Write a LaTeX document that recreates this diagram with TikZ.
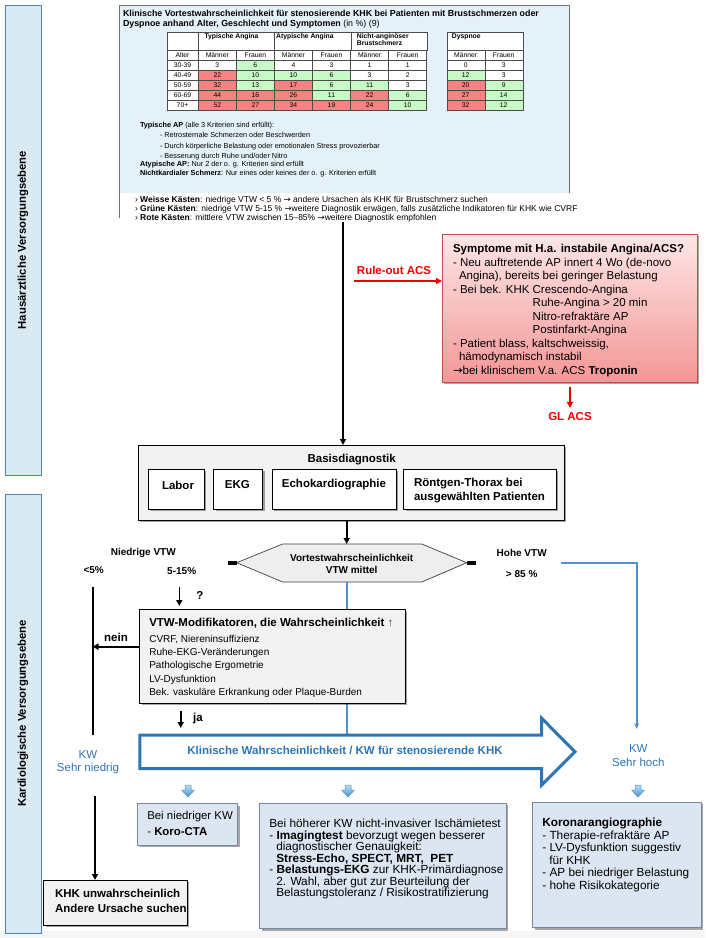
\documentclass[tikz,border=0pt]{standalone}
\usepackage{fontspec}
\setmainfont{Liberation Sans}
\newfontfamily\arrfont{DejaVu Sans}
\newcommand{\rarr}{{\arrfont →}}
\usetikzlibrary{shadows,arrows.meta,calc}
\definecolor{panelblue}{RGB}{229,241,248}
\definecolor{sidefill}{RGB}{218,234,243}
\definecolor{sideedge}{RGB}{79,129,189}
\definecolor{cr}{RGB}{250,130,130}
\definecolor{cg}{RGB}{200,250,200}
\definecolor{cw}{RGB}{255,255,255}
\definecolor{acsred}{RGB}{238,0,0}
\definecolor{boxred}{RGB}{192,80,77}
\definecolor{pinktop}{RGB}{253,230,230}
\definecolor{pinkbot}{RGB}{244,150,150}
\definecolor{graybox}{RGB}{242,242,242}
\definecolor{kwblue}{RGB}{46,117,182}
\definecolor{lineblue}{RGB}{84,144,206}
\definecolor{lavender}{RGB}{220,230,242}
\definecolor{lavedge}{RGB}{120,135,160}
\definecolor{arrowblue}{RGB}{72,150,210}
\definecolor{upblue}{RGB}{40,60,140}
\tikzset{
  txt/.style={inner sep=0pt, outer sep=0pt},
  shad/.style={drop shadow={shadow xshift=2pt, shadow yshift=-2pt, opacity=0.35, fill=black}},
  sidebar/.style={draw=sideedge, line width=0.8pt, fill=sidefill, rotate=90, minimum width=#1, minimum height=36pt, inner sep=0pt, font=\fontsize{11.3}{13}\selectfont\bfseries},
  blackarrow/.style={line width=1.6pt, -{Triangle[length=6pt,width=6pt]}},
  graybx/.style={draw=black, line width=0.7pt, fill=graybox, shad},
  whitebx/.style={draw=black, line width=0.7pt, fill=white, shad},
  lavbx/.style={draw=lavedge, line width=0.7pt, fill=lavender, shad},
  tgrid/.style={draw=black!70, line width=0.4pt},
  cellt/.style={inner sep=0pt, font=\fontsize{6.8}{8}\selectfont},
  cellb/.style={inner sep=0pt, font=\fontsize{6.8}{7.6}\selectfont\bfseries},
  mainb/.style={txt, font=\fontsize{11.5}{13.5}\selectfont\bfseries},
  smallb/.style={txt, font=\fontsize{10}{12}\selectfont\bfseries},
  blueline/.style={draw=lineblue, line width=2pt},
}
\begin{document}
\begin{tikzpicture}[x=1pt,y=-1pt]
\useasboundingbox (0,0) rectangle (705,938);
\fill[white] (0,0) rectangle (705,938);
\fill[gray!7] (0,931) rectangle (705,938);

% side bars
\node[sidebar=470pt] (side1) at (23,240) {Hausärztliche Versorgungsebene};
\node[sidebar=439pt] (side2) at (23,713.5) {Kardiologische Versorgungsebene};

% top panel
\fill[panelblue] (119,5) rectangle (569,193);
\draw[black!55, line width=0.8pt] (119,218) -- (119,5) -- (569,5) -- (569,193);
\node[txt, anchor=north west, align=left, font=\fontsize{8.85}{10}\selectfont] (ttitle) at (123,10.5)
 {\textbf{Klinische Vortestwahrscheinlichkeit für stenosierende KHK bei Patienten mit Brustschmerzen oder}\\
  \textbf{Dyspnoe anhand Alter, Geschlecht und Symptomen} (in \%) (9)};

% table header
\filldraw[tgrid, fill=white] (166.7,31.7) rectangle (198.3,50);
\filldraw[tgrid, fill=white] (198.3,31.7) rectangle (274.3,50);
\filldraw[tgrid, fill=white] (274.3,31.7) rectangle (350.7,50);
\filldraw[tgrid, fill=white] (350.7,31.7) rectangle (426.7,50);
\filldraw[tgrid, fill=white] (446.7,31.7) rectangle (522.7,50);
\node[cellb, anchor=west] (thTA) at (204.3,36.7) {Typische Angina};
\node[cellb, anchor=west] (thAA) at (276,36.7) {Atypische Angina};
\node[cellb, anchor=north west, align=left] (thNA) at (356.7,33.2) {Nicht-anginöser\\Brustschmerz};
\node[cellb, anchor=west] (thD) at (451.7,36.7) {Dyspnoe};
\filldraw[tgrid, fill=white] (166.7,50) rectangle (198.3,60);
\node[cellt] (thAlter) at (182.5,55) {Alter};
\foreach \k in {1,...,8}{
  \pgfmathsetmacro\xl{\k<=6 ? 198.3+(\k-1)*38.07 : 446.7+(\k-7)*38}
  \filldraw[tgrid, fill=white] (\xl,50) rectangle (\xl+38,60);
  \pgfmathtruncatemacro\isodd{mod(\k,2)}
  \ifnum\isodd=1
    \node[cellt] (thsex\k) at (\xl+19,55) {Männer};
  \else
    \node[cellt] (thsex\k) at (\xl+19,55) {Frauen};
  \fi
}
\foreach \r/\lab/\vals in {
 0/30-39/{3/w,6/g,4/w,3/w,1/w,1/w,0/w,3/w},
 1/40-49/{22/r,10/g,10/g,6/g,3/w,2/w,12/g,3/w},
 2/50-59/{32/r,13/g,17/r,6/g,11/g,3/w,20/r,9/g},
 3/60-69/{44/r,16/r,26/r,11/g,22/r,6/g,27/r,14/g},
 4/70+/{52/r,27/r,34/r,19/r,24/r,10/g,32/r,12/g}}{
  \pgfmathsetmacro\yt{60+10*\r}
  \filldraw[tgrid, fill=white] (166.7,\yt) rectangle (198.3,\yt+10);
  \node[cellt] (alter\r) at (182.5,\yt+5) {\lab};
  \foreach \v/\c [count=\k] in \vals {
    \pgfmathsetmacro\xl{\k<=6 ? 198.3+(\k-1)*38.07 : 446.7+(\k-7)*38}
    \filldraw[tgrid, fill=c\c] (\xl,\yt) rectangle (\xl+38,\yt+10);
    \node[cellt] (cell\r-\k) at (\xl+19,\yt+5) {\v};
  }
}

% criteria
\node[txt, anchor=north west, align=left, font=\fontsize{7.3}{10.5}\selectfont] (crit1) at (140,121.8)
 {\textbf{Typische AP} (alle 3 Kriterien sind erfüllt):\\
  \hspace*{20pt}- Retrosternale Schmerzen oder Beschwerden\\
  \hspace*{20pt}- Durch körperliche Belastung oder emotionalen Stress provozierbar\\
  \hspace*{20pt}- Besserung durch Ruhe und/oder Nitro};
\node[txt, anchor=north west, align=left, font=\fontsize{7.3}{9}\selectfont] (crit2) at (140,161.1)
 {\textbf{Atypische AP:} Nur 2 der o. g. Kriterien sind erfüllt\\
  \textbf{Nichtkardialer Schmerz}: Nur eines oder keines der o. g. Kriterien erfüllt};
\node[txt, anchor=north west, align=left, font=\fontsize{8.5}{9.2}\selectfont] (legend) at (135,196.4)
 {› \textbf{Weisse Kästen}: niedrige VTW < 5 \% \rarr{} andere Ursachen als KHK für Brustschmerz suchen\\
  › \textbf{Grüne Kästen}: niedrige VTW 5-15 \% \rarr weitere Diagnostik erwägen, falls zusätzliche Indikatoren für KHK wie CVRF\\
  › \textbf{Rote Kästen}: mittlere VTW zwischen 15–85\% \rarr weitere Diagnostik empfohlen};

% ACS box
\node[draw=boxred, line width=0.8pt, top color=pinktop, bottom color=pinkbot, shad, minimum width=255pt, minimum height=148pt, anchor=north west, inner sep=0pt] (acs) at (442,234) {};
\node[txt, anchor=north west, align=left, font=\fontsize{11.5}{13.5}\selectfont] (acstext) at (453,244.2)
 {\textbf{Symptome mit H.a. instabile Angina/ACS?}\\
  - Neu auftretende AP innert 4 Wo (de-novo\\
  \hspace*{6pt}Angina), bereits bei geringer Belastung\\
  - Bei bek. KHK Crescendo-Angina\\
  \hspace*{79.7pt}Ruhe-Angina > 20 min\\
  \hspace*{79.7pt}Nitro-refraktäre AP\\
  \hspace*{79.7pt}Postinfarkt-Angina\\
  - Patient blass, kaltschweissig,\\
  \hspace*{6pt}hämodynamisch instabil\\
  \rarr bei klinischem V.a. ACS \textbf{Troponin}};
\coordinate (ruleStart) at (354,281);
\draw[line width=1.6pt, acsred, -{Triangle[length=6pt,width=6pt]}] (ruleStart) -- (ruleStart -| acs.west);
\node[mainb, text=acsred] (ruleT) at (394,270) {Rule-out ACS};
\node[mainb, text=acsred] (gl) at (570,417) {GL ACS};
\coordinate (glStart) at (570,387);
\draw[line width=1.6pt, acsred, -{Triangle[length=6pt,width=6pt]}, shorten >=5pt] (glStart) -- (gl.north);

% Basisdiagnostik
\node[graybx, anchor=north west, minimum width=426pt, minimum height=75pt, inner sep=0pt] (basis) at (138,445) {};
\node[mainb] (basisT) at (351.7,460) {Basisdiagnostik};
\node[whitebx, anchor=north west, minimum width=55.7pt, minimum height=40pt, inner sep=0pt] (labor) at (148.3,469) {};
\node[whitebx, anchor=north west, minimum width=49pt, minimum height=40pt, inner sep=0pt] (ekg) at (213.3,469) {};
\node[whitebx, anchor=north west, minimum width=124pt, minimum height=40pt, inner sep=0pt] (echo) at (271.7,469) {};
\node[whitebx, anchor=north west, minimum width=152.4pt, minimum height=40pt, inner sep=0pt] (roent) at (403.3,469) {};
\node[mainb] (laborT) at (178,485) {Labor};
\node[mainb] (ekgT) at (237.3,485) {EKG};
\node[mainb] (echoT) at (334,485) {Echokardiographie};
\node[mainb, anchor=north west, align=left, font=\fontsize{11.5}{14.6}\selectfont\bfseries] (roentT) at (414,477.9) {Röntgen-Thorax bei\\ausgewählten Patienten};

% main arrow
\coordinate (mainStart) at (343,222);
\draw[blackarrow] (mainStart) -- (mainStart |- basis.north);

% hexagon
\coordinate (hL) at (236.7,562.7);
\coordinate (hTL) at (282.7,544);
\coordinate (hTR) at (421.7,544);
\coordinate (hR) at (466.7,562.7);
\coordinate (hBR) at (421.7,582);
\coordinate (hBL) at (282.7,582);
\coordinate (hTop) at (346.7,544);
\coordinate (hBot) at (347.3,582);
\filldraw[fill=gray!13, draw=black!75, line width=0.7pt] (hL) -- (hTL) -- (hTR) -- (hR) -- (hBR) -- (hBL) -- cycle;
\fill[black] (228.3,561) rectangle (236.7,564.5);
\fill[black] (466.7,561) rectangle (476,564.5);
\node[txt, align=center, font=\fontsize{10}{12.5}\selectfont\bfseries] (hexT) at (351.7,564) {Vortestwahrscheinlichkeit\\VTW mittel};
\draw[blackarrow] (hTop |- basis.south) -- (hTop);

% labels around hexagon
\node[smallb] (niedrigT) at (143.3,553.3) {Niedrige VTW};
\node[smallb] (lt5) at (93.7,570) {<5\%};
\node[smallb] (p515) at (181.7,570.7) {5-15\%};
\node[smallb] (hoheT) at (521.7,553.3) {Hohe VTW};
\node[smallb] (gt85) at (521.7,574.3) {> 85 \%};

% blue line behind VTW box
\coordinate (bigTop) at (347.3,735);
\draw[blueline] (hBot) -- (bigTop);

% VTW modifier box
\node[graybx, anchor=north west, minimum width=265.7pt, minimum height=94pt, inner sep=0pt] (vtw) at (139.3,609) {};
\node[mainb, anchor=west] (vtwT) at (149.3,623.3) {VTW-Modifikatoren, die Wahrscheinlichkeit \textcolor{upblue}{\mdseries ↑}};
\node[txt, anchor=north west, align=left, font=\fontsize{10}{13.4}\selectfont] (vtwItems) at (149.3,634.8)
 {CVRF, Niereninsuffizienz\\
  Ruhe-EKG-Veränderungen\\
  Pathologische Ergometrie\\
  LV-Dysfunktion\\
  Bek. vaskuläre Erkrankung oder Plaque-Burden};

% 5-15 arrow and question
\coordinate (q1) at (179.3,587);
\draw[blackarrow, shorten >=3pt] (q1) -- (q1 |- vtw.north);
\node[mainb] (qT) at (200,595) {?};

% left black line and nein
\coordinate (lvTop) at (92.5,587);
\coordinate (lvBot) at (92.5,735);
\draw[line width=2pt] (lvTop) -- (lvBot);
\coordinate (neinS) at (139.3,646.7);
\draw[blackarrow] (neinS) -- (neinS -| lvTop);
\node[mainb] (neinT) at (116,637.3) {nein};

% ja arrow
\coordinate (jaE) at (180.7,728);
\draw[blackarrow, shorten <=7pt] (jaE |- vtw.south) -- (jaE);
\node[mainb] (jaT) at (198,718.3) {ja};

% big arrow
\filldraw[draw=kwblue, line width=3pt, fill=white, line join=miter] (139.8,735) -- (541.7,735) -- (541.7,718.3) -- (575,751.7) -- (541.7,785) -- (541.7,768.5) -- (139.8,768.5) -- cycle;
\node[txt, text=kwblue, font=\fontsize{11.5}{13}\selectfont\bfseries] (bigT) at (345,750.5) {Klinische Wahrscheinlichkeit / KW für stenosierende KHK};

% KW labels
\node[txt, align=center, text=kwblue, font=\fontsize{11.5}{13.3}\selectfont] (kwlow) at (88,762) {KW\\Sehr niedrig};
\node[txt, align=center, text=kwblue, font=\fontsize{11.5}{14.4}\selectfont] (kwhigh) at (638.3,755.5) {KW\\Sehr hoch};

% Hohe VTW blue connector
\coordinate (hoheS) at (561,563.3);
\coordinate (hoheE) at (636.7,729);
\draw[blueline, -{Stealth[length=6pt,width=5pt]}] (hoheS) -- (hoheE |- hoheS) -- (hoheE);

% mini block arrows
\foreach \mx in {188,348,638}{
  \draw[draw=arrowblue, line width=0.5pt, top color=arrowblue!35, bottom color=arrowblue]
   (\mx-3,785) -- (\mx+3,785) -- (\mx+3,790) -- (\mx+6.5,790) -- (\mx,797) -- (\mx-6.5,790) -- (\mx-3,790) -- cycle;
}

% KHK box
\node[graybx, anchor=north west, minimum width=143.4pt, minimum height=45pt, inner sep=0pt] (khk) at (43.3,880) {};
\node[txt, anchor=north west, align=left, font=\fontsize{11.5}{15}\selectfont\bfseries] (khkT) at (55,889.2) {KHK unwahrscheinlich\\Andere Ursache suchen};
\coordinate (khkS) at (95,796);
\draw[line width=2pt, -{Triangle[length=6pt,width=6pt]}] (khkS) -- (khkS |- khk.north);

% bottom boxes
\node[lavbx, anchor=north west, minimum width=100pt, minimum height=41.7pt, inner sep=0pt] (koro) at (137.3,803.3) {};
\node[txt, anchor=north west, align=left, font=\fontsize{11.4}{16.3}\selectfont] (koroT) at (147.3,811)
 {Bei niedriger KW\\- \textbf{Koro-CTA}};
\node[lavbx, anchor=north west, minimum width=246.7pt, minimum height=125.6pt, inner sep=0pt] (mid) at (259.3,802.7) {};
\node[txt, anchor=north west, align=left, font=\fontsize{11.8}{11.5}\selectfont] (midT) at (269.3,819.3)
 {Bei höherer KW nicht-invasiver Ischämietest\\
  - \textbf{Imagingtest} bevorzugt wegen besserer\\
  \hspace*{7pt}diagnostischer Genauigkeit:\\
  \hspace*{7pt}\textbf{Stress-Echo, SPECT, MRT,\ \ PET}\\
  - \textbf{Belastungs-EKG} zur KHK-Primärdiagnose\\
  \hspace*{7pt}2. Wahl, aber gut zur Beurteilung der\\
  \hspace*{7pt}Belastungstoleranz / Risikostratifizierung};
\node[lavbx, anchor=north west, minimum width=168.4pt, minimum height=125.6pt, inner sep=0pt] (angio) at (532.3,801.7) {};
\node[txt, anchor=north west, align=left, font=\fontsize{11.8}{12.5}\selectfont] (angioT) at (542.3,818.3)
 {\textbf{Koronarangiographie}\\
  - Therapie-refraktäre AP\\
  - LV-Dysfunktion suggestiv\\
  \hspace*{7pt}für KHK\\
  - AP bei niedriger Belastung\\
  - hohe Risikokategorie};
\end{tikzpicture}
\end{document}
